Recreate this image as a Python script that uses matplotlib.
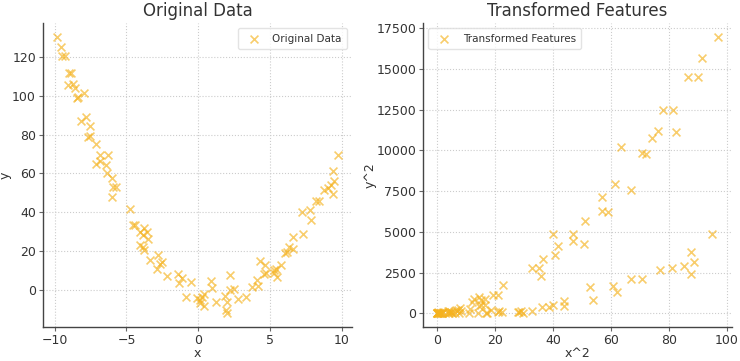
import matplotlib
matplotlib.use("Agg")
import matplotlib.pyplot as plt
import numpy as np

x_vals = [
    -9.84, -9.56, -9.49, -9.30, -9.02, -8.83, -9.07, -8.72, -8.60, -8.48,
    -8.41, -7.97, -8.18, -7.83, -7.55, -7.67, -7.55, -7.15, -6.85, -7.11,
    -6.85, -6.45, -6.31, -6.38, -6.03, -5.92, -5.73, -5.99, -4.78, -4.57,
    -4.38, -4.06, -3.78, -3.55, -3.87, -3.48, -4.06, -3.87, -3.78, -3.36,
    -2.78, -2.54, -2.66, -2.85, -2.19, -1.38, -1.14, -1.31, -0.51, -0.86,
    -0.09, 0.09, 0.26, 0.42, 0.42, 0.14, 0.89, 0.96, 1.26, 1.89,
    2.01, 1.96, 2.01, 2.19, 2.24, 2.47, 2.75, 3.29, 3.76, 4.10,
    4.15, 4.29, 4.62, 4.57, 4.73, 5.27, 5.38, 5.45, 5.73, 5.30,
    6.01, 6.20, 6.31, 6.62, 6.62, 7.25, 7.32, 7.78, 7.88, 8.18,
    8.41, 8.76, 9.00, 9.22, 9.35, 9.42, 9.35, 9.74,
]
y_vals = [
    130.3, 125.3, 120.4, 120.4, 111.8, 111.8, 105.5, 105.8, 103.8, 99.0,
    99.3, 101.2, 87.0, 89.1, 84.6, 78.8, 79.3, 75.1, 69.6, 65.0,
    66.5, 64.1, 69.6, 60.0, 57.6, 52.8, 52.8, 47.7, 41.4, 33.2,
    33.2, 29.7, 32.0, 29.7, 28.0, 26.4, 22.9, 22.0, 20.4, 15.2,
    17.8, 14.4, 13.5, 10.5, 7.2, 7.9, 6.2, 3.6, 4.1, -3.9,
    -4.4, -5.3, -3.6, -2.2, -8.4, -6.7, 4.6, 0.7, -6.5, -3.2,
    -6.1, -10.4, -12.1, 7.5, -0.2, 0.5, -4.9, -3.9, 1.5, 5.0,
    1.9, 14.9, 12.7, 8.1, 8.7, 10.1, 10.5, 6.7, 12.7, 8.5,
    19.0, 19.5, 22.0, 27.2, 21.2, 40.0, 28.9, 41.2, 36.1, 46.0,
    46.0, 51.5, 52.5, 54.0, 49.1, 56.0, 61.4, 69.6,
]

x = np.array(x_vals)
y = np.array(y_vals)
x_sq = x ** 2
y_sq = y ** 2

MARK = "#f5b21e"
TEXT = "#333333"

plt.rcParams["font.family"] = ["DejaVu Sans"]
plt.rcParams["text.color"] = TEXT
plt.rcParams["axes.labelcolor"] = TEXT
plt.rcParams["xtick.color"] = TEXT
plt.rcParams["ytick.color"] = TEXT

fig = plt.figure(figsize=(7.4, 3.61), dpi=100)
ax1 = fig.add_axes([0.058, 0.094, 0.418, 0.842])
ax2 = fig.add_axes([0.572, 0.094, 0.417, 0.842])


def style(ax):
    for side in ("top", "right"):
        ax.spines[side].set_visible(False)
    for side in ("left", "bottom"):
        ax.spines[side].set_color("#444444")
        ax.spines[side].set_linewidth(1.0)
    ax.grid(True, linestyle=":", color="#cccccc", linewidth=0.8)
    ax.set_axisbelow(True)
    ax.tick_params(labelsize=9, length=3, width=0.8, pad=2, color="#666666")


ax1.scatter(x, y, marker="x", s=32, color=MARK, alpha=0.65, linewidths=1.2,
            label="Original Data")
ax1.set_title("Original Data", fontsize=12, pad=5)
ax1.set_xlabel("x", fontsize=9, labelpad=0)
ax1.set_ylabel("y", fontsize=9, labelpad=0)
ax1.set_xticks([-10, -5, 0, 5, 10])
ax1.set_yticks([0, 20, 40, 60, 80, 100, 120])
style(ax1)
ax1.legend(loc="upper right", fontsize=7.5, frameon=True, edgecolor="#dddddd",
           borderpad=0.5, handletextpad=0.8)

ax2.scatter(x_sq, y_sq, marker="x", s=32, color=MARK, alpha=0.65, linewidths=1.2,
            label="Transformed Features")
ax2.set_title("Transformed Features", fontsize=12, pad=5)
ax2.set_xlabel("x^2", fontsize=9, labelpad=0)
ax2.set_ylabel("y^2", fontsize=9, labelpad=0)
ax2.set_xticks([0, 20, 40, 60, 80, 100])
ax2.set_yticks(np.arange(0, 17501, 2500))
style(ax2)
ax2.legend(loc="upper left", fontsize=7.5, frameon=True, edgecolor="#dddddd",
           borderpad=0.5, handletextpad=0.8)

fig.savefig("out.png", dpi=100)
